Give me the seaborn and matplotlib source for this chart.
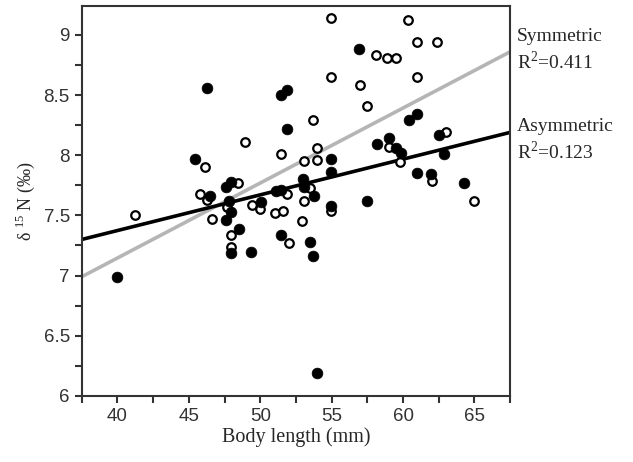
import numpy as np
import pandas as pd
import matplotlib
matplotlib.use("Agg")
import matplotlib.pyplot as plt
from matplotlib.ticker import MultipleLocator, FormatStrFormatter
import seaborn as sns

# Asymmetric (filled) points: body length (mm), delta15N
asym_len = [40.0, 45.4, 46.3, 46.5, 47.6, 47.95, 47.8, 47.95, 47.6, 48.5, 47.95, 49.35,
            50.05, 51.45, 51.9, 51.9, 51.1, 51.45, 51.45, 53.0, 53.1, 53.8, 53.5, 53.7,
            54.0, 54.95, 54.95, 54.95, 56.95, 57.5, 58.2, 59.0, 59.5, 59.85, 60.4, 61.0,
            60.95, 61.95, 62.55, 62.9, 64.25]
asym_n = [6.99, 7.97, 8.56, 7.66, 7.74, 7.78, 7.62, 7.53, 7.46, 7.39, 7.19, 7.20,
          7.61, 8.50, 8.54, 8.22, 7.70, 7.71, 7.34, 7.80, 7.74, 7.66, 7.28, 7.16,
          6.19, 7.97, 7.86, 7.58, 8.88, 7.62, 8.09, 8.14, 8.06, 8.02, 8.29, 8.34,
          7.85, 7.84, 8.17, 8.01, 7.77]

# Symmetric (open) points
sym_len = [41.2, 45.75, 46.1, 46.3, 46.6, 47.7, 47.95, 47.95, 48.45, 48.95, 49.45, 50.0,
           51.0, 51.6, 51.45, 51.9, 52.05, 52.95, 53.1, 53.1, 53.5, 53.7, 54.0, 54.0,
           54.95, 54.95, 54.95, 57.0, 57.5, 58.1, 58.9, 59.5, 59.0, 59.8, 60.35, 61.0,
           61.0, 62.35, 62.0, 63.0, 65.0]
sym_n = [7.50, 7.68, 7.90, 7.63, 7.47, 7.57, 7.34, 7.24, 7.77, 8.11, 7.59, 7.55,
         7.52, 7.54, 8.01, 7.68, 7.27, 7.45, 7.62, 7.95, 7.73, 8.29, 8.06, 7.96,
         7.54, 9.14, 8.65, 8.58, 8.41, 8.83, 8.81, 8.81, 8.07, 7.94, 9.12, 8.94,
         8.65, 8.94, 7.79, 8.19, 7.62]

# regression lines (end points)
fit_x = [37.5, 67.5]
sym_fit = [6.99, 8.86]
asym_fit = [7.30, 8.19]

sns.set_style("ticks")
plt.rcParams['font.family'] = ['Liberation Serif', 'DejaVu Sans']
plt.rcParams['mathtext.fontset'] = 'custom'
plt.rcParams['mathtext.rm'] = 'Liberation Serif'

fig = plt.figure(figsize=(6.33, 4.62), dpi=100)
ax = fig.add_axes([0.129, 0.143, 0.677, 0.844])

lines = pd.DataFrame({"x": fit_x * 2, "y": sym_fit + asym_fit,
                      "group": ["Symmetric"] * 2 + ["Asymmetric"] * 2})
sns.lineplot(data=lines, x="x", y="y", hue="group",
             palette={"Symmetric": "#b5b5b5", "Asymmetric": "black"},
             linewidth=2.6, legend=False, ax=ax, zorder=1)

sns.scatterplot(x=sym_len, y=sym_n, marker="o", s=38, facecolor="white",
                edgecolor="black", linewidth=1.6, ax=ax, zorder=3)
sns.scatterplot(x=asym_len, y=asym_n, marker="o", s=60, color="black",
                edgecolor="black", linewidth=0.5, ax=ax, zorder=4)

ax.set_xlim(37.5, 67.5)
ax.set_ylim(6, 9.24)
ax.xaxis.set_major_locator(MultipleLocator(5))
ax.xaxis.set_minor_locator(MultipleLocator(2.5))
ax.yaxis.set_major_locator(MultipleLocator(0.5))
ax.yaxis.set_minor_locator(MultipleLocator(0.25))
ax.yaxis.set_major_formatter(FormatStrFormatter("%g"))
ax.tick_params(which="both", direction="out", length=5, width=1.5, color="#333333")
ax.tick_params(which="major", labelsize=13.5, labelcolor="#333333",
               labelfontfamily="Liberation Sans")
for sp in ax.spines.values():
    sp.set_linewidth(1.5)
    sp.set_color("#333333")

ax.set_xlabel("Body length (mm)", fontsize=14.5, labelpad=2)
ax.set_ylabel(r"δ $^{15}$ N (‰)", fontsize=13, labelpad=5)

ax.text(1.015, 0.885, "Symmetric\nR$^2$=0.411", transform=ax.transAxes,
        fontsize=14, va="center", ha="left", linespacing=1.3)
ax.text(1.015, 0.655, "Asymmetric\nR$^2$=0.123", transform=ax.transAxes,
        fontsize=14, va="center", ha="left", linespacing=1.3)

fig.savefig("out.png", dpi=100)
